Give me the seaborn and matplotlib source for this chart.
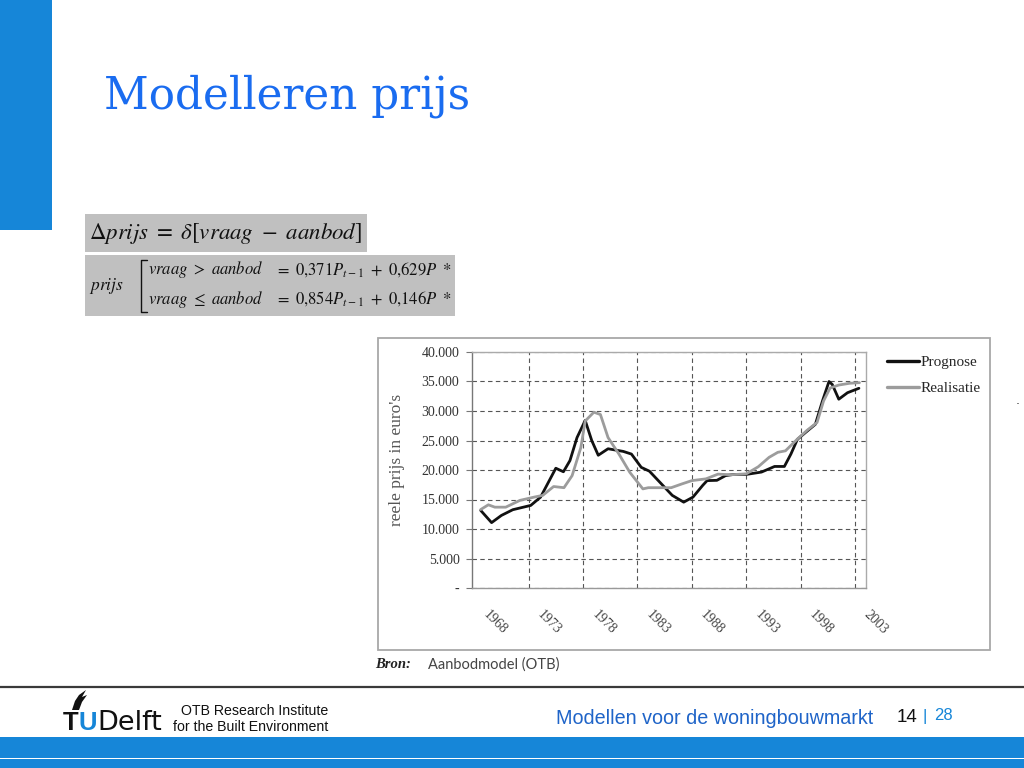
import numpy as np
import pandas as pd
import matplotlib
matplotlib.use("Agg")
import matplotlib.pyplot as plt
import matplotlib.transforms as mtransforms
from matplotlib.patches import Rectangle, Polygon
from matplotlib.lines import Line2D
import seaborn as sns

# ---------------- data ----------------
prognose_years = [1968.1, 1969.1, 1970.0, 1971.05, 1972.7, 1973.6, 1974.4, 1975.0, 1975.7,
                  1976.3, 1976.95, 1977.7, 1978.3, 1978.9, 1979.8, 1981.2, 1981.95, 1982.85,
                  1983.6, 1984.7, 1985.7, 1986.75, 1987.6, 1988.5, 1988.9, 1989.8, 1990.6,
                  1991.35, 1992.5, 1993.9, 1995.1, 1996.0, 1996.6, 1997.2, 1998.1, 1998.85,
                  1999.5, 2000.1, 2000.4, 2001.0, 2001.8, 2002.85]
prognose_values = [13150, 11080, 12300, 13270, 14000, 15400, 18200, 20300, 19700,
                   21600, 25500, 28400, 25000, 22500, 23600, 23150, 22700, 20450,
                   19800, 17650, 15700, 14550, 15400, 17400, 18200, 18250, 19050,
                   19250, 19250, 19650, 20600, 20600, 22700, 25200, 26600, 27750,
                   31700, 35000, 34500, 32000, 33100, 33850]

realisatie_years = [1968.1, 1968.8, 1969.4, 1970.4, 1971.7, 1973.0, 1973.8, 1974.8, 1975.75,
                    1976.5, 1977.3, 1977.7, 1978.5, 1979.1, 1979.8, 1980.8, 1981.8, 1983.0,
                    1983.5, 1984.7, 1985.6, 1986.6, 1987.5, 1988.8, 1989.9, 1991.1, 1992.5,
                    1993.6, 1994.6, 1995.4, 1996.1, 1997.2, 1998.1, 1999.0, 1999.6, 2000.2,
                    2001.0, 2002.0, 2002.9]
realisatie_values = [13300, 14100, 13700, 13700, 14850, 15400, 15700, 17200, 17000,
                     19050, 23800, 28300, 29800, 29400, 25500, 22700, 19600, 16800,
                     17000, 17000, 17000, 17650, 18200, 18500, 19300, 19200, 19350,
                     20550, 22150, 23000, 23250, 25250, 26750, 28050, 31700, 33900,
                     34400, 34700, 34800]

series_names = ["Prognose", "Realisatie"]
year_ticks = [1968, 1973, 1978, 1983, 1988, 1993, 1998, 2003]
year_labels = ["1968", "1973", "1978", "1983", "1988", "1993", "1998", "2003"]
grid_years = [1972.5, 1977.5, 1982.5, 1987.5, 1992.5, 1997.5, 2002.5]
value_ticks = [0, 5000, 10000, 15000, 20000, 25000, 30000, 35000, 40000]
value_labels = ["-", "5.000", "10.000", "15.000", "20.000", "25.000", "30.000", "35.000", "40.000"]

df = pd.concat([
    pd.DataFrame({"jaar": prognose_years, "prijs": prognose_values, "reeks": series_names[0]}),
    pd.DataFrame({"jaar": realisatie_years, "prijs": realisatie_values, "reeks": series_names[1]}),
], ignore_index=True)

# ---------------- style ----------------
sns.set_style("white")
plt.rcParams["font.family"] = ["DejaVu Sans"]
plt.rcParams["mathtext.fontset"] = "stix"

W, H = 1024, 768
fig = plt.figure(figsize=(W / 100, H / 100), dpi=100)

# background / slide layer in pixel coordinates
bg = fig.add_axes([0, 0, 1, 1], zorder=0)
bg.set_xlim(0, W)
bg.set_ylim(H, 0)
bg.axis("off")

blue = "#1686d8"
bg.add_patch(Rectangle((0, 0), 52, 230, color=blue, lw=0))
bg.text(104, 108, "Modelleren prijs", fontsize=31.5, family="DejaVu Serif",
        color="#1a6cf0", va="baseline", ha="left")

# formula boxes
bg.add_patch(Rectangle((85, 214), 282, 38, facecolor="#c0c0c0", lw=0))
bg.add_patch(Rectangle((85, 255), 370, 61, facecolor="#c0c0c0", lw=0))
bg.text(89, 234, r"$\Delta prijs\ =\ \delta[vraag\ -\ aanbod]$", fontsize=16.5,
        color="#111111", va="center", ha="left")
bg.text(89, 286, r"$prijs$", fontsize=12.5, color="#111111", va="center", ha="left")
bg.add_line(Line2D([147, 141, 141, 147], [260, 260, 312, 312], color="#111111", lw=1.0))
bg.text(148, 270, r"$vraag\ >\ aanbod$", fontsize=12, color="#111111", va="center", ha="left")
bg.text(148, 299, r"$vraag\ \leq\ aanbod$", fontsize=12, color="#111111", va="center", ha="left")
bg.text(275, 270, r"$=\ 0{,}371P_{t-1}\ +\ 0{,}629P\ *$", fontsize=12, color="#111111",
        va="center", ha="left")
bg.text(275, 299, r"$=\ 0{,}854P_{t-1}\ +\ 0{,}146P\ *$", fontsize=12, color="#111111",
        va="center", ha="left")

# chart frame
bg.add_patch(Rectangle((378, 338), 612, 312, facecolor="white", edgecolor="#a8a8a8", lw=1.3))
bg.text(397, 460, "reele prijs in euro's", rotation=90, fontsize=12.5,
        family="Liberation Serif", color="#555555", ha="center", va="center")
bg.text(1018, 400, ".", fontsize=9, color="#333333", ha="center", va="center")

# source
bg.text(375, 665, "Bron:", fontsize=10.5, family="Liberation Serif", weight="bold",
        style="italic", color="#222222", va="center", ha="left")
bg.text(428, 665, "Aanbodmodel (OTB)", fontsize=10.5, family="Lato", color="#444444",
        va="center", ha="left")

# footer
bg.add_line(Line2D([0, W], [687, 687], color="#3a3a3a", lw=1.6))
bg.add_patch(Rectangle((0, 737), W, 20.5, color=blue, lw=0))
bg.add_patch(Rectangle((0, 759), W, 9, color=blue, lw=0))
bg.add_patch(Polygon([(72, 710), (75, 701), (79, 695), (86, 690), (82, 697), (87, 695),
                      (82, 702), (79, 710)], closed=True, color="#111111", lw=0))
bg.text(62.5, 730, "T", fontsize=18.5, family="Liberation Sans", weight="bold", color="#111111",
        va="baseline", ha="left")
bg.text(79, 730, "U", fontsize=18.5, family="Liberation Sans", weight="bold", color=blue,
        va="baseline", ha="left")
bg.text(97, 730, "Delft", fontsize=19.5, family="DejaVu Sans", color="#111111",
        va="baseline", ha="left")
bg.text(328, 711, "OTB Research Institute", fontsize=10.2, family="Liberation Sans",
        color="#111111", va="center", ha="right")
bg.text(328, 727, "for the Built Environment", fontsize=10.2, family="Liberation Sans",
        color="#111111", va="center", ha="right")
bg.text(873, 718, "Modellen voor de woningbouwmarkt", fontsize=14.2, family="Liberation Sans",
        color="#1f64c8", va="center", ha="right")
bg.text(897, 718, "14", fontsize=13.5, family="Liberation Sans", color="#111111",
        va="center", ha="left")
bg.text(925, 716, "|", fontsize=12, family="Liberation Sans", color=blue,
        va="center", ha="center")
bg.text(934, 716, "28", fontsize=12, family="Liberation Sans", color=blue,
        va="center", ha="left")

# ---------------- chart ----------------
ax = fig.add_axes([472 / W, 1 - 588 / H, (866 - 472) / W, (588 - 352) / H], zorder=2)
ax.set_facecolor("white")
sns.lineplot(data=df, x="jaar", y="prijs", hue="reeks", estimator=None, sort=False,
             palette={"Prognose": "#111111", "Realisatie": "#9c9c9c"},
             linewidth=2.0, ax=ax, legend=False)

ax.set_xlim(1967.3, 2003.5)
ax.set_ylim(0, 40000)
ax.set_xlabel("")
ax.set_ylabel("")

ax.set_yticks(value_ticks)
ax.set_yticklabels(value_labels, family="Liberation Serif", fontsize=10, color="#333333")
ax.set_xticks(year_ticks)
ax.set_xticklabels(year_labels, family="Liberation Serif", fontsize=10, color="#444444",
                   rotation=-45, ha="left", va="top", rotation_mode="anchor")
ax.set_xticks(grid_years, minor=True)
ax.tick_params(axis="x", which="major", length=0, pad=14)
ax.tick_params(axis="x", which="minor", length=4, width=0.8, color="#777777", direction="out")
ax.tick_params(axis="y", which="major", length=4, width=0.8, color="#777777",
               direction="out", pad=5, left=True)
shift = mtransforms.ScaledTranslation(10 / 100, 0, fig.dpi_scale_trans)
for lab in ax.get_xticklabels():
    lab.set_transform(lab.get_transform() + shift)

ax.grid(False)
ax.grid(axis="y", which="major", color="#555555", linestyle=(0, (4, 3)), linewidth=0.8)
ax.grid(axis="x", which="minor", color="#555555", linestyle=(0, (4, 3)), linewidth=0.8)
for side, col in [("left", "#777777"), ("bottom", "#999999"), ("top", "#aaaaaa"), ("right", "#aaaaaa")]:
    ax.spines[side].set_visible(True)
    ax.spines[side].set_color(col)
    ax.spines[side].set_linewidth(1.0)

handles = [Line2D([], [], color="#111111", lw=2.4), Line2D([], [], color="#9c9c9c", lw=2.4)]
ax.legend(handles, series_names, loc="upper left",
          bbox_to_anchor=(873 / W, 1 - 342 / H), bbox_transform=fig.transFigure,
          frameon=False, handlelength=2.1, handletextpad=0.1, labelspacing=0.78,
          prop={"family": "Liberation Serif", "size": 11})

fig.savefig("out.png", dpi=100)
